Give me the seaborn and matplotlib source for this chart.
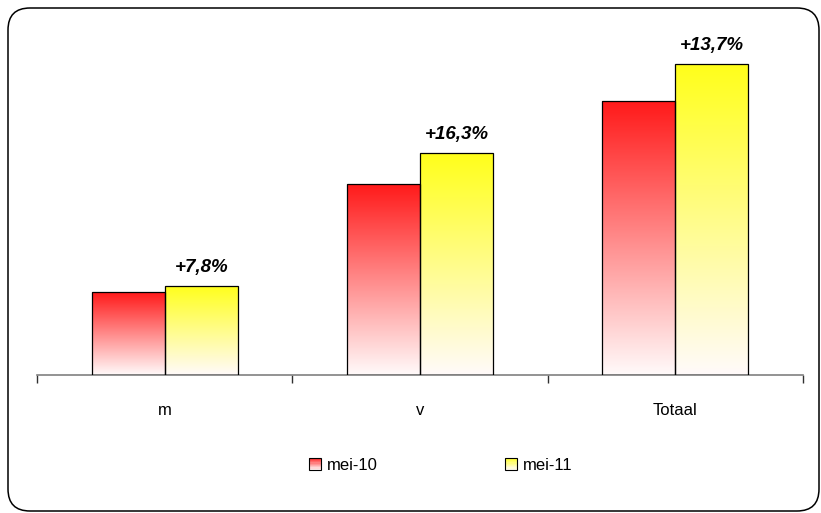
import numpy as np
import pandas as pd
import matplotlib
matplotlib.use('Agg')
import matplotlib.pyplot as plt
import seaborn as sns
from matplotlib.patches import Rectangle, FancyBboxPatch
from matplotlib.legend_handler import HandlerBase
from matplotlib.colors import to_rgb
from matplotlib.transforms import IdentityTransform

# data
categories = ['m', 'v', 'Totaal']
series = ['mei-10', 'mei-11']
mei10 = [83, 191, 274]
mei11 = [89.5, 222, 311.5]
growth = ['+7,8%', '+16,3%', '+13,7%']
colors = ['#ff1a1a', '#ffff1a']

sns.set_style('white')
plt.rcParams['font.family'] = ['Liberation Sans', 'DejaVu Sans']
plt.rcParams['text.color'] = 'black'
plt.rcParams['xtick.color'] = 'black'

df = pd.DataFrame({
    'cat': categories * 2,
    'serie': [series[0]] * 3 + [series[1]] * 3,
    'val': mei10 + mei11,
})

fig = plt.figure(figsize=(8.21, 5.13), dpi=100)
W, H = 821, 513
# plot area in pixels: left 37, right 803, baseline y=375, top y=25
ax = fig.add_axes([37 / W, 1 - 375 / H, (803 - 37) / W, 350 / H])

sns.barplot(data=df, x='cat', y='val', hue='serie', palette=colors,
            width=0.572, ax=ax, legend=False, edgecolor='black', linewidth=0.9)

def gradient(color):
    c = np.array(to_rgb(color))
    t = np.linspace(0, 1, 256)[:, None]  # 0 at bottom -> 1 at top
    img = (1 - t) * np.array([1.0, 0.98, 0.98]) + t * c
    return img[:, None, :]

for i, cont in enumerate(ax.containers):
    for p in cont.patches:
        x0, w, h = p.get_x(), p.get_width(), p.get_height()
        im = ax.imshow(gradient(colors[i]), extent=[x0, x0 + w, 0, h],
                       origin='lower', aspect='auto', zorder=2, interpolation='bilinear')
        im.set_clip_path(p)
        p.set_facecolor('none')
        p.set_zorder(3)

# growth labels over the mei-11 bars
for p, txt in zip(ax.containers[1].patches, growth):
    ax.annotate(txt, (p.get_x() + p.get_width() / 2, p.get_height()),
                xytext=(0, 7), textcoords='offset points', ha='center', va='bottom',
                fontsize=13.5, fontweight='bold', fontstyle='italic', color='black', zorder=4)

ax.set_xlim(-0.5, 2.5)
ax.set_ylim(0, 350)
ax.set_xlabel('')
ax.set_ylabel('')
ax.set_yticks([])
for s in ['top', 'right', 'left']:
    ax.spines[s].set_visible(False)
ax.spines['bottom'].set_color('#808080')
ax.spines['bottom'].set_linewidth(1.2)
ax.set_xticks([0, 1, 2])
ax.set_xticklabels(categories, fontsize=12, color='black')
ax.set_xticks([-0.5, 0.5, 1.5, 2.5], minor=True)
ax.tick_params(axis='x', which='both', bottom=True)
ax.tick_params(axis='x', which='major', length=0, pad=20)
ax.tick_params(axis='x', which='minor', length=6, width=1, color='#303030', direction='out')


class GradHandler(HandlerBase):
    def __init__(self, color):
        super().__init__()
        self.color = np.array(to_rgb(color))

    def create_artists(self, legend, orig_handle, xdescent, ydescent, width, height, fontsize, trans):
        arts = []
        n = 10
        size = min(width, height)
        x0 = -xdescent + (width - size) / 2
        y0 = -ydescent + (height - size) / 2
        for k in range(n):
            t = (k + 0.5) / n
            c = (1 - t) * np.array([1.0, 0.98, 0.98]) + t * self.color
            arts.append(Rectangle((x0, y0 + size * k / n), size, size / n,
                                  facecolor=c, edgecolor='none', transform=trans))
        arts.append(Rectangle((x0, y0), size, size, facecolor='none',
                              edgecolor='black', linewidth=0.8, transform=trans))
        return arts


h1 = Rectangle((0, 0), 1, 1)
h2 = Rectangle((0, 0), 1, 1)
fig.legend([h1, h2], series, handler_map={h1: GradHandler(colors[0]), h2: GradHandler(colors[1])},
           loc='center', bbox_to_anchor=(441 / W, 1 - 465 / H), ncol=2, frameon=False,
           fontsize=12, handlelength=0.75, handleheight=0.75, handletextpad=0.35,
           columnspacing=7.6)

# rounded frame around the whole chart
frame = FancyBboxPatch((8, 2), 811, 503, boxstyle='round,pad=0,rounding_size=22',
                       transform=IdentityTransform(), facecolor='none',
                       edgecolor='black', linewidth=1.1)
fig.patches.append(frame)

fig.savefig('out.png', dpi=100)
